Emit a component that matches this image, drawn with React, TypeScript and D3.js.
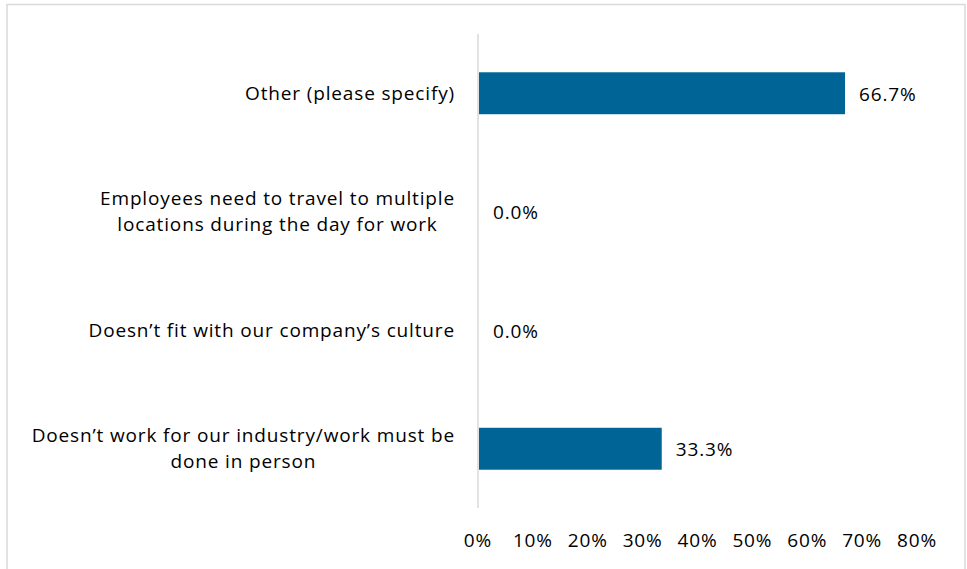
import React, { useEffect, useRef } from "react";
import * as d3 from "d3";

const categories: string[][] = [
  ["Other (please specify)"],
  ["Employees need to travel to multiple", "locations during the day for work"],
  ["Doesn\u2019t fit with our company\u2019s culture"],
  ["Doesn\u2019t work for our industry/work must be", "done in person"],
];
const values: number[] = [66.7, 0.0, 0.0, 33.3];
const tickValues: number[] = [0, 10, 20, 30, 40, 50, 60, 70, 80];

const W = 967;
const H = 569;
const FONT = "'Open Sans', Lato, sans-serif";
const FS = 19;
const LS = "0.85px";

export default function App() {
  const ref = useRef<SVGSVGElement>(null);
  useEffect(() => {
    const svg = d3.select(ref.current);
    svg.selectAll("*").remove();

    const x = d3.scaleLinear().domain([0, 80]).range([478, 917]);
    const y = d3
      .scaleBand<number>()
      .domain(categories.map((_, i) => i))
      .range([34, 508])
      .paddingInner(0.646)
      .paddingOuter(0.323);

    svg
      .append("rect")
      .attr("x", 7)
      .attr("y", 4.5)
      .attr("width", 958)
      .attr("height", 600)
      .attr("fill", "#fff")
      .attr("stroke", "#d9d9d9")
      .attr("stroke-width", 1.5);

    svg
      .selectAll("rect.bar")
      .data(values)
      .join("rect")
      .attr("class", "bar")
      .attr("x", x(0) + 1)
      .attr("y", (_, i) => y(i)!)
      .attr("width", (d) => Math.max(0, x(d) - x(0)))
      .attr("height", y.bandwidth())
      .attr("fill", "#006497");

    svg
      .append("line")
      .attr("x1", x(0))
      .attr("x2", x(0))
      .attr("y1", 34)
      .attr("y2", 508)
      .attr("stroke", "#d9d9d9")
      .attr("stroke-width", 1.5);

    svg
      .selectAll("text.val")
      .data(values)
      .join("text")
      .attr("class", "val")
      .attr("x", (d) => x(d) + 15)
      .attr("y", (_, i) => y(i)! + y.bandwidth() / 2 + 1)
      .attr("dy", "0.35em")
      .attr("font-family", FONT)
      .attr("font-size", FS)
      .attr("letter-spacing", LS)
      .attr("fill", "#000")
      .text((d) => d.toFixed(1) + "%");

    svg
      .selectAll("text.tick")
      .data(tickValues)
      .join("text")
      .attr("class", "tick")
      .attr("x", (d) => x(d))
      .attr("y", 547)
      .attr("text-anchor", "middle")
      .attr("font-family", FONT)
      .attr("font-size", FS)
      .attr("letter-spacing", LS)
      .attr("fill", "#000")
      .text((d) => d + "%");

    const lineH = 26;
    categories.forEach((lines, i) => {
      const cy = y(i)! + y.bandwidth() / 2;
      const g = svg.append("g");
      const texts = lines.map((ln, j) =>
        g
          .append("text")
          .attr("y", cy + (j - (lines.length - 1) / 2) * lineH)
          .attr("dy", "0.35em")
          .attr("text-anchor", "middle")
          .attr("font-family", FONT)
          .attr("font-size", FS)
          .attr("letter-spacing", LS)
          .attr("fill", "#000")
          .text(ln)
      );
      const maxW = d3.max(texts, (t) => (t.node() as SVGTextElement).getComputedTextLength()) || 0;
      const cx = 455 - maxW / 2;
      texts.forEach((t) => t.attr("x", cx));
    });
  }, []);
  return (
    <svg
      ref={ref}
      width={W}
      height={H}
      style={{ position: "absolute", left: 0, top: 0, background: "#fff" }}
    />
  );
}
